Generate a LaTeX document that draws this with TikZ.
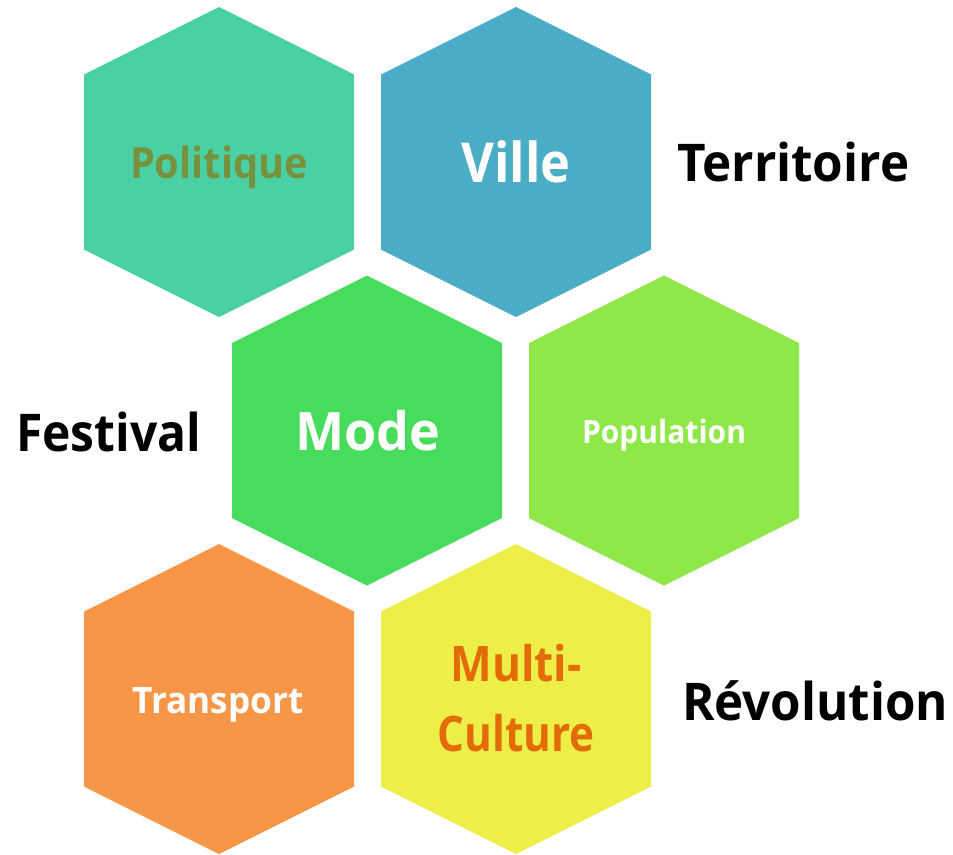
\documentclass[tikz,border=0pt]{standalone}
\usepackage{graphicx}
\usepackage{fontspec}
\setmainfont{Open Sans}[BoldFont=* Bold]
\definecolor{cPol}{HTML}{4AD0A4}
\definecolor{cPolT}{HTML}{76923C}
\definecolor{cVil}{HTML}{4BACC6}
\definecolor{cMod}{HTML}{48DC5C}
\definecolor{cPop}{HTML}{8FE84A}
\definecolor{cTra}{HTML}{F79646}
\definecolor{cMul}{HTML}{EEEE48}
\definecolor{cMulT}{HTML}{E36C09}
\tikzset{
  hexshape/.style={fill=#1},
  lbl/.style={inner sep=0pt, anchor=base, font=\bfseries},
  side/.style={inner sep=0pt, anchor=base west, font=\bfseries\fontsize{52}{60}\selectfont, text=black},
}
\newcommand\myhex[3]{\fill[hexshape=#3, shift={(#1,#2)}] (0,-155) -- (135,-87.5) -- (135,87.5) -- (0,155) -- (-135,87.5) -- (-135,-87.5) -- cycle;}
\newcommand\fitw[2]{\resizebox{#1pt}{\height}{#2}}
\begin{document}
\begin{tikzpicture}[x=1pt,y=-1pt]
\fill[white] (0,0) rectangle (953,854);
\useasboundingbox (0,0) rectangle (953,854);
\myhex{219}{162}{cPol}
\myhex{516}{162}{cVil}
\myhex{367}{430.5}{cMod}
\myhex{664}{430.5}{cPop}
\myhex{219}{699}{cTra}
\myhex{516}{699}{cMul}
\node[lbl, text=cPolT, font=\bfseries\fontsize{43}{50}\selectfont] (pol) at (219,178) {\fitw{178}{Politique}};
\node[lbl, text=white, font=\bfseries\fontsize{55}{62}\selectfont] (vil) at (516,182.7) {\fitw{109}{Ville}};
\node[lbl, text=white, font=\bfseries\fontsize{53}{60}\selectfont] (mod) at (368,450.7) {\fitw{145}{Mode}};
\node[lbl, text=white, font=\bfseries\fontsize{32}{38}\selectfont] (pop) at (664,443) {\fitw{164}{Population}};
\node[lbl, text=white, font=\bfseries\fontsize{36.5}{42}\selectfont] (tra) at (218,713) {\fitw{171}{Transport}};
\node[lbl, text=cMulT, font=\bfseries\fontsize{49}{56}\selectfont] (mul1) at (516,681.7) {\fitw{131}{Multi-}};
\node[lbl, text=cMulT, font=\bfseries\fontsize{49}{56}\selectfont] (mul2) at (516,751.7) {\fitw{157}{Culture}};
\node[side] (ter) at (677,181.7) {\fitw{232}{Territoire}};
\node[side] (fes) at (16,451) {\fitw{185}{Festival}};
\node[side] (rev) at (682,720) {\fitw{266}{Révolution}};
\end{tikzpicture}
\end{document}
